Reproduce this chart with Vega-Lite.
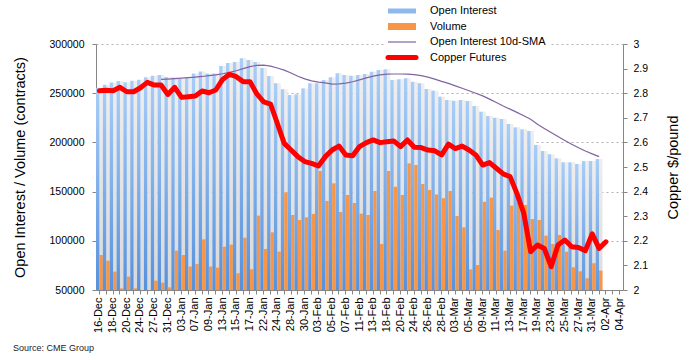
{
  "$schema": "https://vega.github.io/schema/vega-lite/v6.json",
  "width": 527,
  "height": 246,
  "autosize": {"type": "none"},
  "padding": {"left": 96, "top": 44, "right": 66, "bottom": 70},
  "background": "white",
  "config": {
    "font": "Liberation Sans",
    "view": {"stroke": null},
    "axis": {"labelFont": "Liberation Sans", "titleFont": "Liberation Sans", "titleFontWeight": "normal", "labelColor": "#000000", "titleColor": "#000000", "domainColor": "#868686", "tickColor": "#868686"}
  },
  "title": {"text": "Source: CME Group", "orient": "bottom", "anchor": "start", "frame": "bounds", "fontSize": 9, "fontWeight": "normal", "color": "#222222", "offset": 12},
  "data": {"values": [
    {"d": "16-Dec", "oi": 255500, "vol": 85600, "sma": null, "cu": 2.81},
    {"d": "17-Dec", "oi": 258600, "vol": 79800, "sma": null, "cu": 2.812},
    {"d": "18-Dec", "oi": 260800, "vol": 68700, "sma": null, "cu": 2.81},
    {"d": "19-Dec", "oi": 262500, "vol": 51700, "sma": null, "cu": 2.824},
    {"d": "20-Dec", "oi": 261200, "vol": 63600, "sma": null, "cu": 2.806},
    {"d": "23-Dec", "oi": 262600, "vol": 51700, "sma": null, "cu": 2.806},
    {"d": "24-Dec", "oi": 263600, "vol": 45000, "sma": null, "cu": 2.822},
    {"d": "26-Dec", "oi": 266300, "vol": 45000, "sma": null, "cu": 2.844},
    {"d": "27-Dec", "oi": 267800, "vol": 59500, "sma": null, "cu": 2.833},
    {"d": "30-Dec", "oi": 268600, "vol": 57500, "sma": 264000, "cu": 2.833},
    {"d": "31-Dec", "oi": 266500, "vol": 52700, "sma": 264400, "cu": 2.795},
    {"d": "02-Jan", "oi": 266000, "vol": 90000, "sma": 264800, "cu": 2.824},
    {"d": "03-Jan", "oi": 264500, "vol": 85600, "sma": 265300, "cu": 2.783},
    {"d": "06-Jan", "oi": 266000, "vol": 73800, "sma": 265800, "cu": 2.786},
    {"d": "07-Jan", "oi": 270000, "vol": 76500, "sma": 266400, "cu": 2.789},
    {"d": "08-Jan", "oi": 272000, "vol": 101500, "sma": 267000, "cu": 2.809},
    {"d": "09-Jan", "oi": 270000, "vol": 73800, "sma": 267800, "cu": 2.802},
    {"d": "10-Jan", "oi": 270000, "vol": 72700, "sma": 268600, "cu": 2.813},
    {"d": "13-Jan", "oi": 277600, "vol": 94000, "sma": 269800, "cu": 2.856},
    {"d": "14-Jan", "oi": 280700, "vol": 96100, "sma": 271200, "cu": 2.877},
    {"d": "15-Jan", "oi": 281700, "vol": 67000, "sma": 272800, "cu": 2.867},
    {"d": "16-Jan", "oi": 285400, "vol": 103200, "sma": 275000, "cu": 2.847},
    {"d": "17-Jan", "oi": 283700, "vol": 71100, "sma": 277000, "cu": 2.847},
    {"d": "21-Jan", "oi": 281700, "vol": 125600, "sma": 278300, "cu": 2.797},
    {"d": "22-Jan", "oi": 275500, "vol": 91700, "sma": 278600, "cu": 2.765},
    {"d": "23-Jan", "oi": 267500, "vol": 108600, "sma": 277500, "cu": 2.756},
    {"d": "24-Jan", "oi": 260000, "vol": 89000, "sma": 275600, "cu": 2.677},
    {"d": "27-Jan", "oi": 253900, "vol": 149300, "sma": 273500, "cu": 2.596},
    {"d": "28-Jan", "oi": 248200, "vol": 126200, "sma": 270500, "cu": 2.569},
    {"d": "29-Jan", "oi": 248900, "vol": 121200, "sma": 267200, "cu": 2.542},
    {"d": "30-Jan", "oi": 254900, "vol": 123900, "sma": 264500, "cu": 2.522},
    {"d": "31-Jan", "oi": 260000, "vol": 127300, "sma": 262500, "cu": 2.515},
    {"d": "03-Feb", "oi": 260000, "vol": 171000, "sma": 261200, "cu": 2.504},
    {"d": "04-Feb", "oi": 263400, "vol": 140500, "sma": 260500, "cu": 2.542},
    {"d": "05-Feb", "oi": 266100, "vol": 158400, "sma": 259300, "cu": 2.569},
    {"d": "06-Feb", "oi": 270200, "vol": 129300, "sma": 259500, "cu": 2.585},
    {"d": "07-Feb", "oi": 268500, "vol": 146600, "sma": 260300, "cu": 2.549},
    {"d": "10-Feb", "oi": 267800, "vol": 138400, "sma": 261600, "cu": 2.546},
    {"d": "11-Feb", "oi": 268500, "vol": 127600, "sma": 263500, "cu": 2.583},
    {"d": "12-Feb", "oi": 269500, "vol": 126200, "sma": 265500, "cu": 2.599},
    {"d": "13-Feb", "oi": 271900, "vol": 150600, "sma": 267400, "cu": 2.61},
    {"d": "14-Feb", "oi": 273600, "vol": 96800, "sma": 268700, "cu": 2.599},
    {"d": "18-Feb", "oi": 274300, "vol": 171000, "sma": 269300, "cu": 2.603},
    {"d": "19-Feb", "oi": 263400, "vol": 155000, "sma": 269500, "cu": 2.606},
    {"d": "20-Feb", "oi": 264100, "vol": 146600, "sma": 269500, "cu": 2.583},
    {"d": "21-Feb", "oi": 265100, "vol": 178700, "sma": 269400, "cu": 2.61},
    {"d": "24-Feb", "oi": 261700, "vol": 177000, "sma": 268800, "cu": 2.58},
    {"d": "25-Feb", "oi": 260000, "vol": 157800, "sma": 267800, "cu": 2.579},
    {"d": "26-Feb", "oi": 254300, "vol": 151700, "sma": 266400, "cu": 2.569},
    {"d": "27-Feb", "oi": 252600, "vol": 147000, "sma": 264300, "cu": 2.566},
    {"d": "28-Feb", "oi": 246500, "vol": 143200, "sma": 262000, "cu": 2.549},
    {"d": "02-Mar", "oi": 243100, "vol": 150600, "sma": 260000, "cu": 2.593},
    {"d": "03-Mar", "oi": 242400, "vol": 125200, "sma": 257500, "cu": 2.575},
    {"d": "04-Mar", "oi": 243100, "vol": 113700, "sma": 255000, "cu": 2.585},
    {"d": "05-Mar", "oi": 242100, "vol": 71000, "sma": 252500, "cu": 2.569},
    {"d": "06-Mar", "oi": 237000, "vol": 75400, "sma": 250000, "cu": 2.549},
    {"d": "09-Mar", "oi": 231200, "vol": 139800, "sma": 247300, "cu": 2.508},
    {"d": "10-Mar", "oi": 226800, "vol": 143900, "sma": 244000, "cu": 2.518},
    {"d": "11-Mar", "oi": 225100, "vol": 111000, "sma": 240500, "cu": 2.495},
    {"d": "12-Mar", "oi": 223800, "vol": 90000, "sma": 237000, "cu": 2.472},
    {"d": "13-Mar", "oi": 218700, "vol": 135700, "sma": 233800, "cu": 2.461},
    {"d": "16-Mar", "oi": 215300, "vol": 138800, "sma": 230500, "cu": 2.393},
    {"d": "17-Mar", "oi": 213300, "vol": 136400, "sma": 227000, "cu": 2.312},
    {"d": "18-Mar", "oi": 211600, "vol": 122100, "sma": 223500, "cu": 2.156},
    {"d": "19-Mar", "oi": 197400, "vol": 121200, "sma": 218500, "cu": 2.183},
    {"d": "20-Mar", "oi": 191300, "vol": 105200, "sma": 214200, "cu": 2.169},
    {"d": "23-Mar", "oi": 187900, "vol": 96800, "sma": 210000, "cu": 2.095},
    {"d": "24-Mar", "oi": 183800, "vol": 105900, "sma": 206000, "cu": 2.183},
    {"d": "25-Mar", "oi": 179800, "vol": 89000, "sma": 202000, "cu": 2.203},
    {"d": "26-Mar", "oi": 179800, "vol": 73100, "sma": 198200, "cu": 2.176},
    {"d": "27-Mar", "oi": 178100, "vol": 69000, "sma": 194600, "cu": 2.173},
    {"d": "30-Mar", "oi": 181100, "vol": 61900, "sma": 191300, "cu": 2.16},
    {"d": "31-Mar", "oi": 181100, "vol": 77200, "sma": 188300, "cu": 2.228},
    {"d": "01-Apr", "oi": 183200, "vol": 69700, "sma": 185600, "cu": 2.169},
    {"d": "02-Apr", "oi": null, "vol": null, "sma": null, "cu": 2.196},
    {"d": "03-Apr", "oi": null, "vol": null, "sma": null, "cu": null},
    {"d": "04-Apr", "oi": null, "vol": null, "sma": null, "cu": null}
  ]},
  "encoding": {
    "x": {
      "field": "d", "type": "ordinal", "sort": null,
      "scale": {
        "domain": ["16-Dec","17-Dec","18-Dec","19-Dec","20-Dec","23-Dec","24-Dec","26-Dec","27-Dec","30-Dec","31-Dec","02-Jan","03-Jan","06-Jan","07-Jan","08-Jan","09-Jan","10-Jan","13-Jan","14-Jan","15-Jan","16-Jan","17-Jan","21-Jan","22-Jan","23-Jan","24-Jan","27-Jan","28-Jan","29-Jan","30-Jan","31-Jan","03-Feb","04-Feb","05-Feb","06-Feb","07-Feb","10-Feb","11-Feb","12-Feb","13-Feb","14-Feb","18-Feb","19-Feb","20-Feb","21-Feb","24-Feb","25-Feb","26-Feb","27-Feb","28-Feb","02-Mar","03-Mar","04-Mar","05-Mar","06-Mar","09-Mar","10-Mar","11-Mar","12-Mar","13-Mar","16-Mar","17-Mar","18-Mar","19-Mar","20-Mar","23-Mar","24-Mar","25-Mar","26-Mar","27-Mar","30-Mar","31-Mar","01-Apr","02-Apr","03-Apr","04-Apr"],
        "paddingInner": 0, "paddingOuter": 0
      },
      "axis": {
        "title": null, "labelAngle": -90, "labelFontSize": 11, "tickSize": 4, "labelPadding": 3,
        "labelExpr": "round(datum.index * 76) % 2 == 0 ? datum.label : ''",
        "labelOverlap": false, "grid": false
      }
    }
  },
  "layer": [
    {
      "layer": [
        {
          "mark": {"type": "bar", "clip": true, "color": {"gradient": "linear", "x1": 0, "y1": 0, "x2": 0, "y2": 1, "stops": [{"offset": 0, "color": "#eeeeee"}, {"offset": 1, "color": "#d4d4d4"}]}},
          "encoding": {
            "xOffset": {"datum": "vol"},
            "y": {"field": "oi", "type": "quantitative"}
          }
        },
        {
          "transform": [{"fold": ["oi", "vol"], "as": ["key", "value"]}],
          "mark": {"type": "bar", "clip": true},
          "encoding": {
            "xOffset": {"field": "key", "type": "nominal", "sort": ["oi", "vol"], "scale": {"domain": ["oi", "vol"], "paddingInner": 0, "paddingOuter": 0}},
            "y": {
              "field": "value", "type": "quantitative",
              "scale": {"domain": [50000, 300000], "zero": false, "nice": false},
              "axis": {
                "title": "Open Interest / Volume (contracts)", "titleFontSize": 14.5, "titlePadding": 21,
                "values": [50000, 100000, 150000, 200000, 250000, 300000], "format": "d",
                "labelFontSize": 10.5, "tickSize": 4, "labelPadding": 8,
                "grid": true, "gridDash": [2, 3], "gridColor": "#b3b3b3"
              }
            },
            "color": {
              "field": "key", "type": "nominal",
              "condition": {"test": "datum.key == 'oi'", "value": {"gradient": "linear", "x1": 0, "y1": 0, "x2": 0, "y2": 1, "stops": [{"offset": 0, "color": "#a9cdf7"}, {"offset": 1, "color": "#4383d6"}]}},
              "scale": {"domain": ["oi", "vol", "sma", "cu"], "range": ["#8fb8ee", "#f79646", "#8064a2", "#ff0000"]},
              "legend": {
                "orient": "none", "legendX": 288.5, "legendY": -41.5, "title": null,
                "fillColor": "white", "padding": 3,
                "labelFont": "Liberation Sans", "labelFontSize": 11, "labelColor": "#000000",
                "symbolType": "stroke", "symbolOffset": 9, "labelOffset": 22.5, "rowPadding": 3.5,
                "labelExpr": "datum.label == 'oi' ? 'Open Interest' : datum.label == 'vol' ? 'Volume' : datum.label == 'sma' ? 'Open Interest 10d-SMA' : 'Copper Futures'",
                "encode": {"symbols": {"update": {
                  "shape": {"value": "stroke"},
                  "size": {"value": 784},
                  "fill": {"value": "transparent"},
                  "stroke": {"signal": "datum.value == 'oi' ? '#8fb8ee' : datum.value == 'vol' ? '#f79646' : datum.value == 'sma' ? '#8064a2' : '#ff0000'"},
                  "strokeWidth": {"signal": "datum.value == 'oi' ? 5 : datum.value == 'vol' ? 7 : datum.value == 'sma' ? 1.2 : 5"},
                  "strokeCap": {"signal": "datum.value == 'cu' ? 'round' : 'butt'"},
                  "strokeJoin": {"value": "round"},
                  "opacity": {"value": 1}
                }}}
              }
            }
          }
        },
        {
          "mark": {"type": "line", "strokeWidth": 1.2},
          "encoding": {
            "y": {"field": "sma", "type": "quantitative"},
            "color": {"datum": "sma", "type": "nominal"}
          }
        }
      ]
    },
    {
      "mark": {"type": "line", "strokeWidth": 5, "strokeCap": "round", "strokeJoin": "round"},
      "encoding": {
        "y": {
          "field": "cu", "type": "quantitative",
          "scale": {"domain": [2, 3], "zero": false, "nice": false},
          "axis": {
            "orient": "right", "title": "Copper $/pound", "titleFontSize": 14.5, "titleAngle": 270, "titlePadding": 33,
            "values": [2, 2.1, 2.2, 2.3, 2.4, 2.5, 2.6, 2.7, 2.8, 2.9, 3], "format": "~g",
            "labelFontSize": 10.5, "tickSize": 4, "labelPadding": 6, "grid": false
          }
        },
        "color": {"datum": "cu", "type": "nominal"}
      }
    }
  ],
  "resolve": {"scale": {"y": "independent"}}
}
